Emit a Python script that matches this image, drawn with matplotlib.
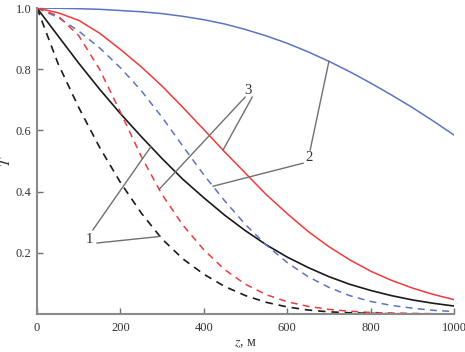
import numpy as np
import matplotlib
matplotlib.use('Agg')
import matplotlib.pyplot as plt

plt.rcParams['font.family'] = ['Liberation Serif', 'DejaVu Serif']
plt.rcParams['mathtext.fontset'] = 'stix'

# значения (z в метрах, шаг 50 м)
z = [0, 50, 100, 150, 200, 250, 300, 350, 400, 450, 500,
     550, 600, 650, 700, 750, 800, 850, 900, 950, 1000]

T_black_solid = [1.0, 0.91, 0.82, 0.735, 0.655, 0.58, 0.508, 0.44, 0.38, 0.323, 0.272,
                 0.226, 0.186, 0.152, 0.122, 0.097, 0.077, 0.06, 0.046, 0.035, 0.026]
T_black_dash = [1.0, 0.82, 0.675, 0.545, 0.43, 0.33, 0.245, 0.18, 0.13, 0.09, 0.06,
                0.038, 0.023, 0.013, 0.007, 0.004, 0.002, 0.001, 0.0005, 0.0002, 0.0]
T_red_solid = [1.0, 0.985, 0.96, 0.918, 0.865, 0.808, 0.745, 0.675, 0.603, 0.53, 0.46,
               0.39, 0.328, 0.27, 0.22, 0.177, 0.14, 0.11, 0.085, 0.064, 0.047]
T_red_dash = [1.0, 0.975, 0.91, 0.8, 0.66, 0.515, 0.39, 0.29, 0.21, 0.145, 0.097,
              0.063, 0.04, 0.025, 0.015, 0.009, 0.005, 0.003, 0.002, 0.001, 0.0]
T_blue_solid = [1.0, 0.9995, 0.998, 0.996, 0.992, 0.988, 0.982, 0.973, 0.962, 0.948, 0.93,
                0.909, 0.885, 0.857, 0.826, 0.792, 0.755, 0.716, 0.675, 0.631, 0.585]
T_blue_dash = [1.0, 0.97, 0.925, 0.87, 0.805, 0.73, 0.643, 0.548, 0.455, 0.37, 0.292,
               0.225, 0.168, 0.122, 0.087, 0.06, 0.041, 0.028, 0.019, 0.012, 0.008]

x_ticks = [0, 200, 400, 600, 800, 1000]
y_ticks = [0.2, 0.4, 0.6, 0.8, 1.0]

RED = '#f03a3a'
BLUE = '#5a74c4'
GRAY = '#707070'

fig = plt.figure(figsize=(4.65, 3.52), dpi=100)
ax = fig.add_axes([0.0796, 0.108, 0.8968, 0.869])

dash = (0, (4.5, 3.5))
ax.plot(z, T_blue_solid, color=BLUE, lw=1.1)
ax.plot(z, T_red_solid, color=RED, lw=1.1)
ax.plot(z, T_black_solid, color='#1a1a1a', lw=1.2)
ax.plot(z, T_blue_dash, color=BLUE, lw=1.1, linestyle=dash)
ax.plot(z, T_red_dash, color=RED, lw=1.1, linestyle=dash)
ax.plot(z, T_black_dash, color='#1a1a1a', lw=1.2, linestyle=dash)

# выноски
def leader(x0, y0, zc, Ts):
    ax.plot([x0, zc], [y0, np.interp(zc, z, Ts)], color=GRAY, lw=1.0)

leader(134, 0.275, 273, T_black_solid)
leader(144, 0.232, 295, T_black_dash)
ax.text(125, 0.242, '1', fontsize=10.5, color='#333333', ha='center', va='center')

leader(499, 0.709, 293, T_red_dash)
leader(516, 0.709, 446, T_red_solid)
ax.text(506, 0.73, '3', fontsize=10.5, color='#333333', ha='center', va='center')

leader(655, 0.536, 700, T_blue_solid)
leader(638, 0.493, 422, T_blue_dash)
ax.text(653, 0.51, '2', fontsize=10.5, color='#333333', ha='center', va='center')

ax.set_xlim(0, 1000)
ax.set_ylim(0, 1.0)
ax.set_xticks(x_ticks)
ax.set_yticks(y_ticks)
ax.set_yticklabels(['%.1f' % v for v in y_ticks])
ax.tick_params(direction='in', length=4, width=1, color=GRAY, labelsize=9,
               labelcolor='#333333')
ax.tick_params(axis='y', pad=4)
ax.tick_params(axis='x', pad=6)
for s in ['top', 'right']:
    ax.spines[s].set_visible(False)
for s in ['left', 'bottom']:
    ax.spines[s].set_color('#8a8a8a')
    ax.spines[s].set_linewidth(1.5)

ax.set_xlabel('$z$, м', fontsize=10, color='#333333', labelpad=2)
ax.set_ylabel('$T$', fontsize=11, color='#333333', rotation=90)
ax.yaxis.set_label_coords(-0.058, 0.5)

fig.savefig('out.png', dpi=100)
